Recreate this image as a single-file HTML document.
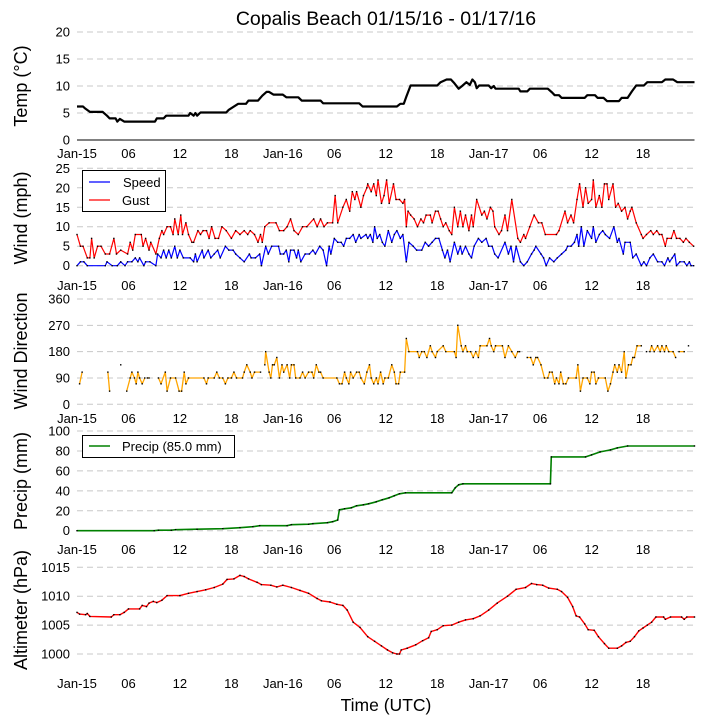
<!DOCTYPE html>
<html><head><meta charset="utf-8">
<style>
html,body{margin:0;padding:0;background:#fff;}
svg{display:block;font-family:"Liberation Sans",sans-serif;}
</style></head>
<body>
<svg id="chart" width="705" height="725" viewBox="0 0 705 725" xmlns="http://www.w3.org/2000/svg">
<text x="386" y="25" font-size="19.5" text-anchor="middle">Copalis Beach 01/15/16 - 01/17/16</text>
<text x="386" y="711" font-size="17.5" text-anchor="middle">Time (UTC)</text>
</svg>
<script>
// ---- data ----
const xTickLabels = ["Jan-15","06","12","18","Jan-16","06","12","18","Jan-17","06","12","18"];
const xTickHours = [0,6,12,18,24,30,36,42,48,54,60,66];

const tempHours = [0,0.7,0.9,1.5,3,3.5,3.8,4.5,4.7,5,5.5,9.1,9.3,10.1,10.4,13,13.2,13.6,13.8,14,14.4,17.4,17.7,18.2,18.8,19.7,20,21.1,21.6,22.1,22.4,22.9,24,24.4,25.8,26.2,28.4,28.7,32.9,33.3,37.3,37.7,38.1,38.4,38.9,42,42.4,43.1,43.6,44,44.5,44.9,45.4,45.8,46.1,46.4,46.6,46.9,48,48.3,48.6,48.8,51.5,51.7,52.5,52.8,54.9,55.4,55.7,56.2,56.5,59.2,59.5,60.4,60.7,61.4,61.8,63.2,63.5,64.2,64.7,65.2,66.1,66.5,68.2,68.6,69.5,70,72];
const tempVals = [6.2,6.2,5.9,5.2,5.2,4.5,4.0,4.0,3.4,3.9,3.4,3.4,4.0,4.0,4.5,4.5,5.0,4.5,5.0,4.5,5.1,5.1,5.6,6.1,6.7,6.7,7.3,7.3,8.2,8.9,8.9,8.4,8.4,7.9,7.9,7.3,7.3,6.8,6.8,6.2,6.2,6.7,6.7,8.0,10.1,10.1,10.7,11.2,11.2,10.5,9.5,10.0,10.7,10.2,11.2,10.7,9.6,10.1,10.1,9.6,10.0,9.5,9.5,9.0,9.0,9.5,9.5,8.8,8.3,8.3,7.8,7.8,8.3,8.3,7.8,7.8,7.2,7.2,7.8,7.8,9.0,10.1,10.1,10.7,10.7,11.2,11.2,10.7,10.7];

const speedHours = [0,0.4,0.8,1.2,3.3,3.5,4.1,4.7,5.1,5.6,5.9,6.4,6.8,7.1,7.3,7.8,8,8.5,9.2,9.4,9.8,10.1,10.4,10.7,11,11.4,11.7,12,12.4,13.2,13.6,13.8,14,14.6,14.8,15.3,15.6,16,16.4,16.7,17.3,17.7,18.2,18.5,19,19.5,20.1,20.3,20.8,21.3,21.5,22,22.3,22.7,23.5,23.7,24.1,24.4,24.7,24.9,25.3,25.6,25.8,26.1,26.6,27.1,27.5,27.8,28.3,28.7,29.1,29.4,29.6,30,30.4,30.8,31.1,31.4,31.8,32.2,32.5,32.9,33.1,33.7,33.9,34.2,34.5,34.7,35,35.3,35.6,35.9,36.3,36.7,37,37.3,37.7,38,38.4,38.7,39.2,39.6,40.2,40.6,41,41.4,41.8,42.2,42.6,42.9,43.2,43.5,44,44.4,44.7,44.9,45.3,45.7,46,46.3,46.8,47.2,47.7,48,48.4,48.7,49.1,49.9,50.3,50.6,50.9,51.2,51.7,52.1,52.5,53,53.3,53.5,54.1,54.4,54.7,55.1,55.6,56,56.5,57,57.2,57.6,58,58.3,58.5,58.8,59.1,59.5,60,60.2,60.5,60.9,61.3,61.6,62.1,62.6,63,63.2,63.7,63.9,64.5,64.8,65.2,65.8,66.1,66.4,66.8,67.2,67.7,68.2,68.5,68.9,69.1,69.4,69.7,69.9,70.3,70.8,71.1,71.4,71.6,71.9];
const speedVals = [0,1,1,0,0,1,0,0,1,0,1,1,2,1,2,0,1,1,0,3,2,4,2,4,2,5,2,4,2,2,1,3,1,4,2,4,2,3,4,2,5,4,4,3,2,1,3,2,2,3,0,5,3,5,5,3,3,4,1,4,4,2,4,1,3,3,4,3,5,4,0,5,3,7,6,6,5,7,7,8,6,8,7,8,7,8,6,10,7,8,6,5,9,6,8,9,7,8,1,6,5,4,4,6,5,6,7,7,4,2,4,1,6,3,5,3,5,3,2,5,7,6,7,5,5,3,2,6,3,5,1,5,1,0,1,3,4,5,3,2,0,2,1,2,3,4,5,5,6,8,5,10,5,9,7,10,6,8,9,8,7,10,6,7,3,6,6,2,3,0,1,0,2,3,1,1,0,2,1,2,3,0,1,1,0,1,0,0];

const gustHours = [0,0.4,0.7,1.2,1.5,1.7,2,2.4,2.8,3.3,3.8,4.3,4.6,5.1,5.9,6.2,6.5,6.8,7.5,7.7,8,8.4,8.6,9.2,9.6,9.9,10.1,10.5,10.9,11.2,11.4,11.8,12.1,12.3,12.7,13,13.4,13.6,14.1,14.4,14.7,15.1,15.4,15.7,16.1,16.5,16.9,17.4,18,18.5,19,19.5,19.9,20.2,20.7,21.1,21.4,21.6,21.9,22.4,23.2,23.6,24.1,24.5,24.9,25.3,25.8,26.3,26.8,27.6,28,28.4,28.8,29.2,29.8,30.1,30.4,31,31.4,31.8,32.1,32.4,32.6,33.1,33.4,33.8,33.9,34.3,34.6,34.9,35.1,35.5,35.8,36.1,36.4,36.9,37.2,37.6,38,38.2,38.4,38.6,38.9,39.3,39.7,40.1,40.4,40.7,41.2,41.4,41.8,42.1,42.4,42.7,43,43.4,43.7,44,44.4,44.7,45,45.3,45.7,46,46.2,46.6,47.2,47.5,47.8,48.2,48.5,48.7,49.2,49.5,49.9,50.2,50.7,51.4,51.7,52.1,52.3,52.8,53.3,53.8,54.2,54.6,55.9,56.2,56.9,57.2,57.6,57.9,58.3,58.6,59,59.3,59.6,60,60.2,60.5,60.9,61.2,61.5,61.8,62,62.5,62.8,63.1,63.5,63.9,64.2,64.5,64.7,65.2,65.8,66,66.4,66.9,67.2,67.6,67.9,68.2,68.6,68.8,69.3,69.6,69.9,70.3,70.7,71,71.4,71.9];
const gustVals = [8,5,5,2,2,7,2,5,5,3,3,7,3,4,3,6,4,8,8,5,7,4,6,3,7,9,8,10,10,8,12,8,13,8,11,8,6,6,9,8,9,9,7,10,7,7,10,9,7,9,8,9,8,9,8,6,8,6,10,11,11,9,9,10,12,9,8,10,10,12,10,12,10,11,11,18,11,15,17,14,19,17,19,15,18,20,21,19,21,18,22,16,18,22,16,21,17,17,16,17,10,14,13,12,10,12,11,13,13,11,14,14,12,10,11,9,8,15,10,14,10,13,9,13,10,17,13,14,12,15,14,10,8,9,13,9,17,7,6,8,7,10,13,11,11,8,8,9,14,11,13,11,17,21,15,20,16,17,22,15,18,15,21,21,17,21,15,16,14,15,12,14,15,11,8,7,8,9,8,9,8,8,5,7,7,9,7,7,6,7,6,5];

const dirHours = [0.3,0.6,null,3.6,3.8,null,5.1,null,5.8,6.2,6.4,6.7,6.9,7.1,7.3,7.6,7.9,null,8.2,8.4,null,9.5,9.8,10.3,10.5,10.9,11.5,11.9,12.2,12.5,12.7,13,14.8,15.1,15.3,16,16.3,16.6,17,17.3,17.6,18,18.3,18.6,19.3,19.5,19.8,20.2,20.4,20.7,21.4,null,21.9,22,22.4,22.6,22.8,23,23.3,23.6,23.9,24.1,24.5,24.8,25,25.3,25.5,26,26.3,26.6,27,27.4,27.6,27.9,28.2,28.4,28.7,30.3,30.6,30.9,31.2,31.4,31.7,31.9,32.2,32.6,32.9,33.1,33.5,33.8,34.1,34.3,34.6,34.9,35.1,35.4,35.7,35.9,36.3,36.7,37,37.2,37.5,37.7,38.2,38.4,38.7,39.7,39.9,40.2,40.5,40.8,41.2,41.4,41.8,42,42.7,43,44,44.2,44.4,44.8,45,45.3,45.5,45.9,46.2,46.5,46.8,47,47.8,48.1,48.3,48.6,48.8,49.6,49.9,50.3,50.7,51.1,51.4,51.6,null,52.5,52.9,53.2,53.5,53.7,54.1,54.5,54.9,55.1,55.4,55.7,55.9,56.2,56.4,56.7,57,57.3,58.2,58.4,58.7,59,59.5,59.8,60,60.3,60.5,60.8,61.6,61.9,62.2,62.5,62.7,63,63.2,63.5,63.8,64,64.3,64.6,64.8,65,65.3,65.8,null,66.4,null,66.8,67,67.3,67.7,68,68.2,68.5,68.7,69,69.5,69.8,null,70.2,70.8,null,71.3];
const dirVals = [70,110,null,110,45,null,135,null,45,90,110,90,70,110,90,70,90,null,90,90,null,90,70,110,45,90,90,45,45,110,70,90,90,70,90,90,110,90,90,70,90,90,110,90,90,110,135,110,90,110,110,null,135,180,110,90,135,135,160,90,135,110,135,90,135,135,90,90,110,90,110,110,90,135,110,110,90,90,70,70,110,90,70,110,90,110,110,90,70,110,135,90,70,90,70,110,70,90,90,135,110,70,70,110,110,225,180,180,160,180,180,160,200,180,160,180,200,180,180,160,270,200,180,200,180,180,160,180,160,200,200,225,200,180,200,200,160,200,180,160,180,180,null,160,160,135,160,160,135,90,90,110,110,70,90,70,110,70,70,90,90,135,45,90,90,70,110,110,70,90,90,45,70,110,135,110,135,110,180,90,135,135,160,160,200,200,null,180,null,180,200,180,200,180,200,180,200,180,180,160,null,180,180,null,200];

const precipHours = [0,9,9.5,11,11.5,14,17,19,20.5,21.3,24.5,25,27,27.5,29.2,29.8,30.4,30.6,31.2,32,32.6,33.4,34,34.9,35.6,36.4,37,37.6,38.3,43.7,44.1,44.5,45,55.2,55.3,59.3,60,61,62.2,63,64.2,72];
const precipVals = [0,0,0.5,0.5,1,1.5,2,3,4,5,5,6,6.5,7,8,9,10.7,21,22,23,25,26,27,29,31,33,35,37,38,38,43,46,47,47,74,74,76,79,81,83,85,85];

const altHours = [0,0.3,1,1.2,1.5,4,4.3,5,5.5,6,7.3,7.6,8.1,8.4,8.9,9.3,9.9,10.5,12,13,14,15,16,17,17.5,18.3,19,19.5,20,21,21.5,22.6,23.3,24,25,26,27,28,28.5,29.5,30.3,31,31.5,32.2,33,33.9,34.7,35.5,36.2,36.8,37.3,37.6,37.8,38.5,39.5,40.3,41,41.3,42,42.7,43.7,44.5,45.3,46.2,47,48,49,50.2,51.2,52.3,53,53.6,54.3,55,56,56.5,57.2,57.8,58.2,58.6,59.2,59.6,60.3,60.8,61.5,62,63,63.5,64,64.5,65,65.5,66,66.5,67,67.5,68.4,68.6,69.2,70.5,70.8,71.1,72];
const altVals = [1007.2,1006.9,1006.8,1007.0,1006.5,1006.4,1006.8,1006.8,1007.2,1007.8,1007.8,1008.4,1008.2,1008.8,1009.1,1008.9,1009.3,1010.1,1010.1,1010.5,1010.8,1011.1,1011.5,1012.1,1012.9,1013.0,1013.6,1013.4,1013.0,1012.4,1012.0,1011.9,1011.6,1011.9,1011.5,1011.0,1010.5,1009.6,1009.2,1009.0,1008.6,1008.4,1007.6,1005.5,1004.6,1003.0,1002.2,1001.4,1000.7,1000.2,1000.0,1000.0,1000.7,1001.0,1001.6,1002.3,1002.8,1003.9,1004.2,1004.9,1005.0,1005.5,1005.9,1006.1,1006.6,1007.6,1008.8,1010.0,1011.2,1011.5,1012.2,1012.0,1011.9,1011.4,1011.2,1010.8,1009.8,1008.2,1006.6,1006.4,1005.2,1004.2,1004.1,1003.0,1001.8,1001.0,1001.0,1001.4,1002.0,1002.2,1003.0,1004.0,1004.5,1005.0,1005.5,1006.4,1006.4,1006.0,1006.4,1006.4,1006.0,1006.4,1006.4];

const tempTicks = [0,5,10,15,20];
const windTicks = [0,5,10,15,20,25];
const dirTicks = [0,90,180,270,360];
const precipTicks = [0,20,40,60,80,100];
const altTicks = [1000,1005,1010,1015];

// ---- drawing ----
const svg = document.getElementById('chart');
const NS = 'http://www.w3.org/2000/svg';
const X0 = 77, X1 = 694.5, HMAX = 72;
function xs(h){ return X0 + h*(X1-X0)/HMAX; }
function mk(tag, attrs, parent){
  const e = document.createElementNS(NS, tag);
  for (const k in attrs) e.setAttribute(k, attrs[k]);
  (parent||svg).appendChild(e);
  return e;
}
function yScale(v0, v1, py0, py1){ return v => py0 + (v-v0)*(py1-py0)/(v1-v0); }

function panel(name, ticks, ys, labelY, title, titleY, zeroSolid){
  const g = mk('g', {});
  
  
  ticks.forEach((t,i)=>{
    const y = ys(t);
    const solid = zeroSolid && i===0;
    const ln = mk('line', {x1:X0, x2:X1, y1:y, y2:y, stroke: solid?'#000':'#c8c8c8', 'stroke-width':1, 'stroke-dasharray': solid?'none':'6,4'}, g);
    
    
    const tx = mk('text', {x:70, y:y+4.5, 'font-size':13, 'text-anchor':'end'}, g);
    
    
    tx.textContent = t;
  });
  xTickHours.forEach((h,i)=>{
    const tx = mk('text', {x:xs(h), y:labelY, 'font-size':13, 'text-anchor':'middle'}, g);
    
    
    tx.textContent = xTickLabels[i];
  });
  const tt = mk('text', {x:0, y:0, 'font-size':18, 'text-anchor':'middle', transform:`translate(27,${titleY}) rotate(-90)`}, g);
  
  
  tt.textContent = title;
  return g;
}

function series(g, name, hrs, vals, ys, color, width, dots){
  let d = '', pen = false;
  for (let i=0;i<hrs.length;i++){
    if (hrs[i]===null || vals[i]===null){ pen=false; continue; }
    d += (pen?'L':'M') + xs(hrs[i]).toFixed(1) + ',' + ys(vals[i]).toFixed(1);
    pen = true;
  }
  const p = mk('path', {d:d, fill:'none', stroke:color, 'stroke-width':width, 'stroke-linejoin':'round'}, g);
  
  
  if (dots){
    const dg = mk('g', {fill:'#000'}, g);
    
    
    for (let i=0;i<hrs.length;i++){
      if (hrs[i]===null || vals[i]===null) continue;
      mk('rect', {x:xs(hrs[i])-0.7, y:ys(vals[i])-0.7, width:1.4, height:1.4}, dg);
    }
  }
}

// Temp
const yT = yScale(0,20,140,32);
const gT = panel('temp', tempTicks, yT, 158, 'Temp (\u00B0C)', 86, true);
series(gT, 'temp', tempHours, tempVals, yT, '#000', 2.2, false);

// Wind
const yW = yScale(0,25,265.7,168.3);
const gW = panel('wind', windTicks, yW, 290, 'Wind (mph)', 218, false);
series(gW, 'wind-gust', gustHours, gustVals, yW, '#ff0000', 1.2, true);
series(gW, 'wind-speed', speedHours, speedVals, yW, '#0000ff', 1.2, true);
(function(){
  const lg = mk('g', {}, gW);
  
  
  mk('rect', {x:82.5, y:170.5, width:83, height:41, fill:'#fff', stroke:'#000', 'stroke-width':1}, lg);
  mk('line', {x1:89, x2:110, y1:182, y2:182, stroke:'#0000ff', 'stroke-width':1.2}, lg);
  mk('line', {x1:89, x2:110, y1:200, y2:200, stroke:'#ff0000', 'stroke-width':1.2}, lg);
  const t1 = mk('text', {x:123, y:187, 'font-size':13}, lg); t1.textContent='Speed';
  
  
  const t2 = mk('text', {x:122, y:205, 'font-size':13}, lg); t2.textContent='Gust';
  
  
})();

// Wind direction
const yD = yScale(0,360,404.3,299);
const gD = panel('wind-direction', dirTicks, yD, 423, 'Wind Direction', 351, false);
series(gD, 'wind-direction', dirHours, dirVals, yD, '#ffa500', 1.3, true);

// Precip
const yP = yScale(0,100,530.7,431);
const gP = panel('precip', precipTicks, yP, 554, 'Precip (mm)', 481, false);
series(gP, 'precip', precipHours, precipVals, yP, '#008000', 1.6, true);
(function(){
  const lg = mk('g', {}, gP);
  
  
  mk('rect', {x:82.5, y:435.5, width:152, height:22, fill:'#fff', stroke:'#000', 'stroke-width':1}, lg);
  mk('line', {x1:89, x2:110, y1:446, y2:446, stroke:'#008000', 'stroke-width':1.6}, lg);
  const t = mk('text', {x:122, y:451, 'font-size':13}, lg); t.textContent='Precip (85.0 mm)';
  
  
})();

// Altimeter
const yA = yScale(1000,1015,654,567.3);
const gA = panel('altimeter', altTicks, yA, 688, 'Altimeter (hPa)', 610, false);
series(gA, 'altimeter', altHours, altVals, yA, '#ff0000', 1.4, true);
</script>
</body></html>
